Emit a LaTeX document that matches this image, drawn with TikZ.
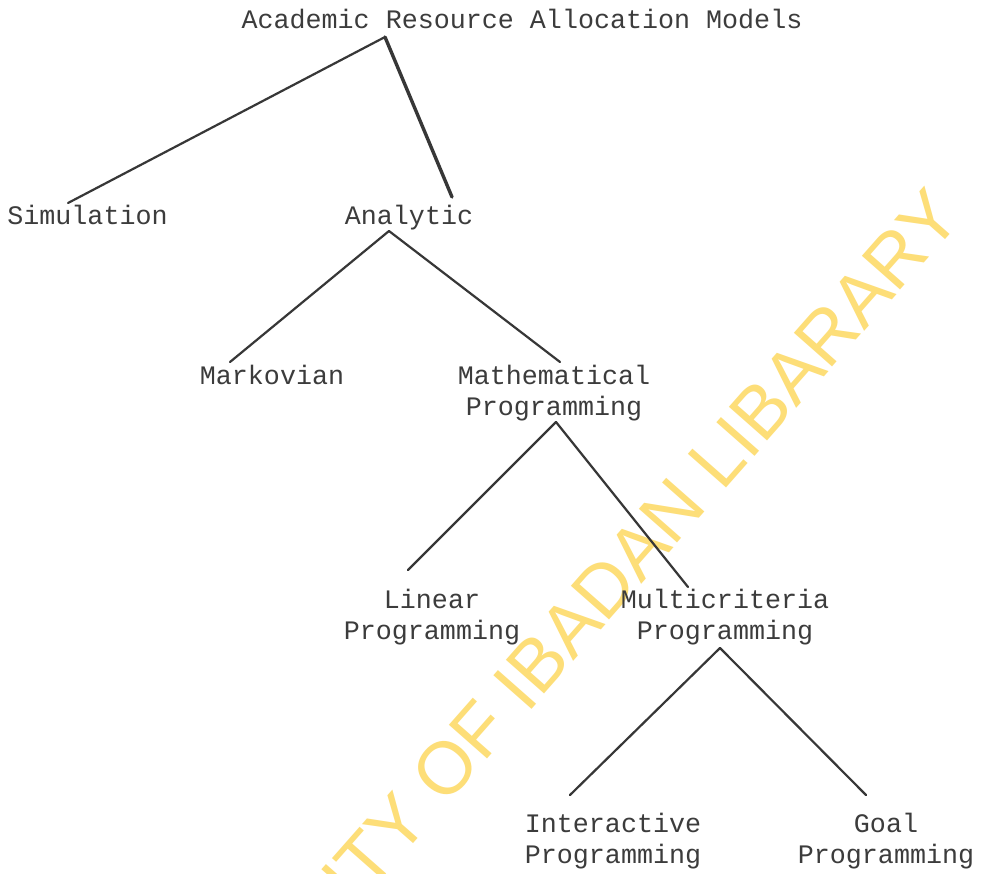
\documentclass[tikz,border=0pt]{standalone}
\usepackage{fontspec}
\newfontfamily\twfont{Liberation Mono}
\newfontfamily\wmfont{Liberation Sans}
\usetikzlibrary{calc}
\definecolor{inkc}{RGB}{60,60,60}
\definecolor{linec}{RGB}{55,55,55}
\definecolor{wmc}{RGB}{253,222,120}
\tikzset{
  lbl/.style={font=\twfont\fontsize{26.7}{31}\selectfont, text=inkc, inner sep=0pt, anchor=base, align=center},
  edge/.style={draw=linec, line width=2.2pt, line cap=round},
  thickedge/.style={draw=linec, line width=3.4pt, line cap=round},
  wm/.style={font=\wmfont\fontsize{74}{80}\selectfont, text=wmc, inner sep=0pt, rotate=48.6}
}
\begin{document}
\begin{tikzpicture}[x=1pt,y=-1pt]
\useasboundingbox (0,0) rectangle (985,873);
\fill[white] (0,0) rectangle (985,873);
\begin{scope}
\clip (0,0) rectangle (985,873);
\node[wm] (wmark) at (532,670) {UNIVERSITY OF IBADAN LIBARARY};
\end{scope}

% base anchor of a two-line label = baseline of its last line
\node[lbl] (root) at (522,28) {Academic Resource Allocation Models};
\node[lbl] (sim) at (87.5,224) {Simulation};
\node[lbl] (ana) at (409,224) {Analytic};
\node[lbl] (mark) at (272,384) {Markovian};
\node[lbl] (math) at (554,415) {Mathematical\\Programming};
\node[lbl] (lin) at (432,639) {Linear\\Programming};
\node[lbl] (multi) at (725,639) {Multicriteria\\Programming};
\node[lbl] (inter) at (613,863) {Interactive\\Programming};
\node[lbl] (goal) at (886,863) {Goal\\Programming};

\coordinate (rootapex) at ($(root.base)+(-137,9)$);
\coordinate (anaapex) at ($(ana.base)+(-20,7)$);
\coordinate (mathapex) at ($(math.base)+(2,7)$);
\coordinate (multiapex) at ($(multi.base)+(-5,9)$);

\draw[edge] (rootapex) -- ($(sim.base)+(-19.5,-21)$);
\draw[thickedge] (rootapex) -- ($(ana.base)+(43,-27)$);
\draw[edge] (anaapex) -- ($(mark.base)+(-42,-22)$);
\draw[edge] (anaapex) -- ($(math.base)+(6,-53)$);
\draw[edge] (mathapex) -- ($(lin.base)+(-24,-69)$);
\draw[edge] (mathapex) -- ($(multi.base)+(-37,-52)$);
\draw[edge] (multiapex) -- ($(inter.base)+(-43,-68)$);
\draw[edge] (multiapex) -- ($(goal.base)+(-20,-68)$);
\end{tikzpicture}
\end{document}
